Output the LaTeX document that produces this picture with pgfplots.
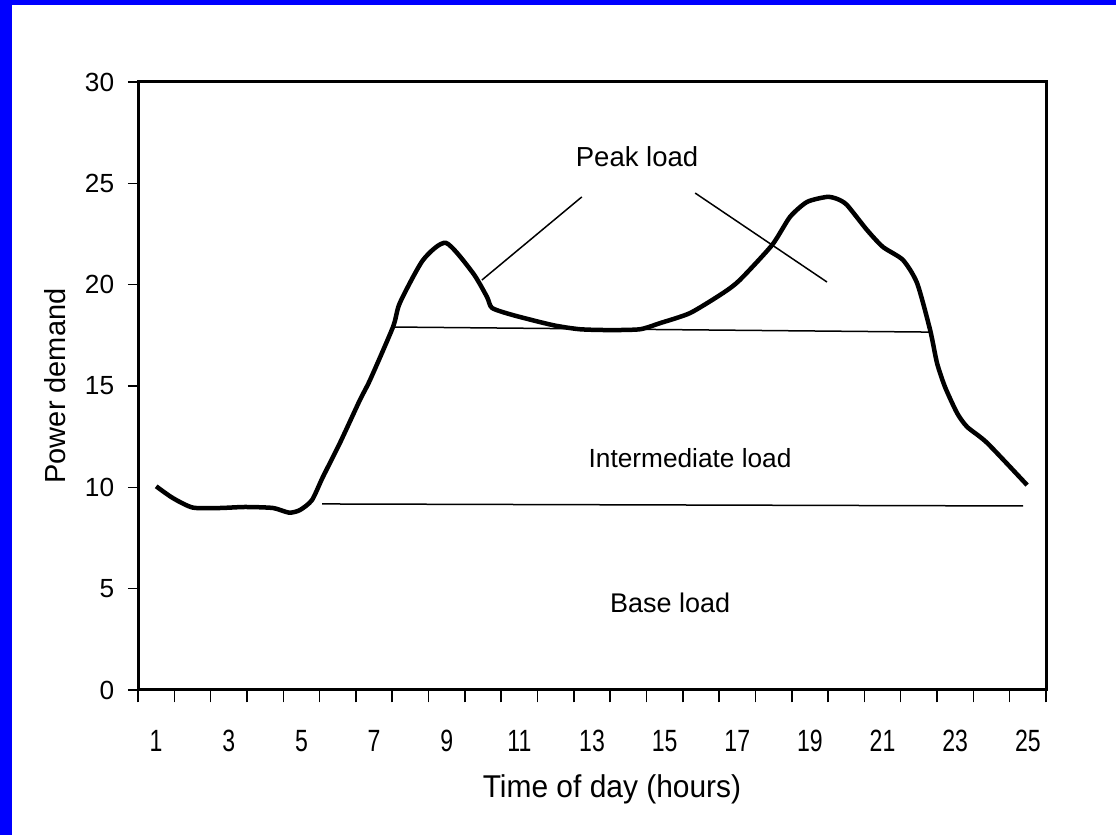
\documentclass[border=0pt]{standalone}
\usepackage{pgfplots}
\pgfplotsset{compat=1.18}
\usepackage{graphicx}
\usepackage{fontspec}
\setmainfont{Liberation Sans}
\definecolor{bord}{RGB}{0,0,255}
\begin{document}
\begin{tikzpicture}[x=0.4pt,y=0.4pt]
\useasboundingbox (0,0) rectangle (1116,835);
\fill[white] (0,0) rectangle (1116,835);
\fill[bord] (0,0) rectangle (12,835);
\fill[bord] (0,830) rectangle (1116,835);
\begin{axis}[
  at={(55.2pt,58pt)}, anchor=south west,
  scale only axis, width=363.2pt, height=243.2pt,
  xmin=0.5, xmax=25.5, ymin=0, ymax=30,
  axis line style={line width=1.2pt},
  xtick={1,3,...,25},
  minor xtick={0.5,1.5,...,25.5},
  major x tick style={draw=none},
  minor tick length=5pt,
  major tick length=4pt,
  tick align=outside,
  xtick pos=bottom, ytick pos=left,
  ytick={0,5,...,30},
  tick style={line width=0.6pt, black},
  /pgf/number format/assume math mode=true,
  yticklabel style={font=\fontsize{10.5}{12}\selectfont, xshift=-2pt},
  xticklabel={\scalebox{0.75}[1]{\pgfmathprintnumber{\tick}}},
  xticklabel style={font=\fontsize{12.3}{14}\selectfont, yshift=-8.6pt},
  xlabel={\scalebox{0.95}[1]{Time of day (hours)}},
  ylabel={Power demand},
  every axis x label/.style={at={(axis description cs:0.522,-0.176)}, anchor=base, font=\fontsize{12.6}{14}\selectfont},
  every axis y label/.style={at={(axis description cs:-0.091,0.5)}, rotate=90, anchor=center, font=\fontsize{11.6}{14}\selectfont},
  clip=false,
]
\addplot[black, line width=1.8pt, smooth, tension=0.4] coordinates {
(1.0,10.05) (1.46,9.47) (2.01,9.0) (2.76,8.98) (3.45,9.03) (4.22,8.98) (4.66,8.75) (4.96,8.88)
(5.29,9.37) (5.59,10.51) (6.06,12.19) (6.61,14.31) (6.89,15.3) (7.52,17.91) (7.71,19.1)
(8.35,21.22) (8.98,22.06) (9.72,20.58) (10.11,19.39) (10.25,18.85) (10.82,18.5) (11.93,18.0)
(12.67,17.8) (13.5,17.76) (14.32,17.8) (14.87,18.1) (15.7,18.6) (16.61,19.59) (17.07,20.23)
(17.96,21.96) (18.45,23.34) (18.92,24.08) (19.47,24.33) (19.75,24.23) (20.02,23.93) (20.57,22.7)
(21.01,21.86) (21.56,21.22) (21.95,20.08) (22.31,17.76) (22.5,16.13) (22.72,14.95) (23.05,13.67)
(23.33,12.98) (23.88,12.19) (24.98,10.11)
};
\addplot[black, line width=0.6pt] coordinates {(5.57,9.18) (24.87,9.08)};
\addplot[black, line width=0.6pt] coordinates {(7.52,17.91) (22.31,17.66)};
\addplot[black, line width=0.6pt] coordinates {(9.97,20.23) (12.72,24.33)};
\addplot[black, line width=0.6pt] coordinates {(15.84,24.52) (19.47,20.13)};
\node[font=\fontsize{11}{13}\selectfont] at (axis cs:14.24,26.3) {Peak load};
\node[font=\fontsize{10.5}{12}\selectfont] at (axis cs:15.7,11.45) {Intermediate load};
\node[font=\fontsize{10.8}{12}\selectfont] at (axis cs:15.15,4.3) {Base load};
\end{axis}
\end{tikzpicture}
\end{document}
